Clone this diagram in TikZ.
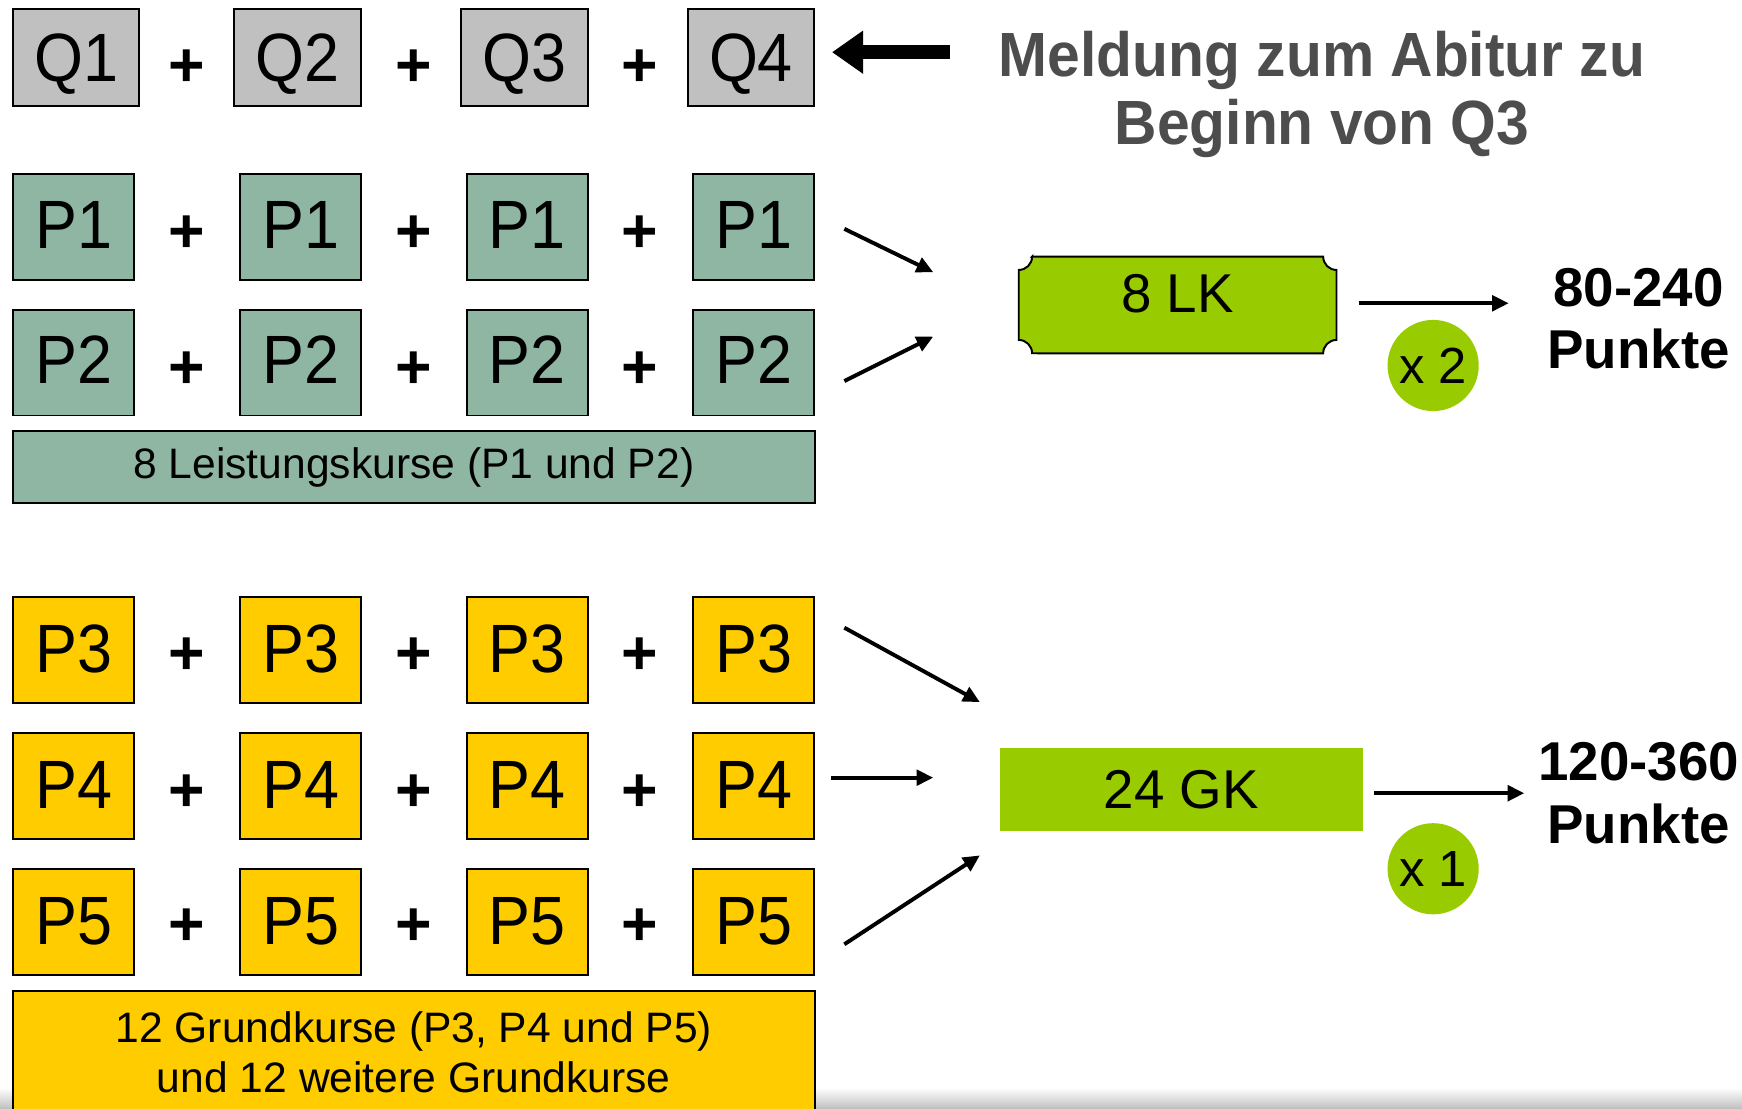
\documentclass[tikz,border=0pt]{standalone}
\usepackage{fontspec}
\setmainfont{Liberation Sans}
\newfontfamily\condf[FakeStretch=0.92]{Liberation Sans}
\newfontfamily\meldf[FakeStretch=0.94]{Liberation Sans}
\usetikzlibrary{arrows.meta,calc}
\definecolor{qgray}{HTML}{C0C0C0}
\definecolor{pteal}{HTML}{8FB5A3}
\definecolor{pyellow}{HTML}{FFCC00}
\definecolor{lgreen}{HTML}{99CC00}
\definecolor{mgray}{HTML}{4D4D4D}
\begin{document}
\begin{tikzpicture}[x=0.01cm,y=0.01cm,
  box/.style={draw=black, line width=0.5pt, inner sep=0pt, text height=12.5pt, font=\condf\fontsize{17.5}{17.5}\selectfont},
  qbox/.style={box, fill=qgray, minimum width=1.13cm, minimum height=0.87cm, text depth=-1.5pt},
  pbox/.style={box, minimum width=1.09cm, minimum height=0.95cm},
  tealbox/.style={pbox, fill=pteal, text depth=1.7pt},
  ybox/.style={pbox, fill=pyellow, text depth=1.1pt},
  bar/.style={draw=black, line width=0.5pt, inner sep=0pt, minimum width=7.21cm, align=center, font=\fontsize{10.9}{12.8}\selectfont},
  plus/.style={inner sep=0pt, font=\bfseries\fontsize{16}{16}\selectfont},
  thinarrow/.style={line width=1pt, -{Triangle[length=0.15cm,width=0.14cm]}},
  bigarrow/.style={line width=0.13cm, -{Triangle[length=0.28cm,width=0.37cm]}},
  mult/.style={circle, fill=lgreen, minimum size=0.82cm, inner sep=0pt, font=\fontsize{13}{13}\selectfont},
  result/.style={fill=lgreen, inner sep=0pt, font=\fontsize{14}{14}\selectfont},
  points/.style={align=center, inner sep=0pt, font=\bfseries\fontsize{14}{15.9}\selectfont}
]
\useasboundingbox (0,0) rectangle (1568,-998);
\fill[white] (0,0) rectangle (1568,-998);
\shade[top color=white, bottom color=black!25] (0,-979) rectangle (1568,-998);

% Q row
\foreach \i/\x/\w in {1/68.5/1.13,2/268/1.14,3/472/1.14,4/676/1.14}
  \node[qbox, minimum width=\w cm] (q\i) at (\x,-51.5) {Q\i};

% P rows
\foreach \r/\y in {1/204.5,2/326.5}
  \foreach \c/\x in {1/66.5,2/270.5,3/474.5,4/678.5}
    \node[tealbox] (p\r c\c) at (\x,-\y) {P\r};
\foreach \r/\y in {3/585,4/707.5,5/830}
  \foreach \c/\x in {1/66.5,2/270.5,3/474.5,4/678.5}
    \node[ybox] (p\r c\c) at (\x,-\y) {P\r};

% plus signs
\foreach \n/\y in {q/61,a/211,b/333,c/591,d/714,e/835}
  \foreach \k/\x in {1/168,2/372,3/576}
    \node[plus] (plus\n\k) at (\x,-\y) {+};

% bars
\node[bar, fill=pteal, minimum height=0.65cm] (lkbar) at (372.5,-420.5) {8 Leistungskurse (P1 und P2)};
\node[bar, fill=pyellow, minimum height=1.11cm] (gkbar) at (372.5,-947.5) {12 Grundkurse (P3, P4 und P5)\\und 12 weitere Grundkurse};

% Meldung
\coordinate (mstart) at (855,-47);
\draw[bigarrow, shorten >=0.15cm] (mstart) -- (mstart -| q4.east);
\node[text=mgray, align=center, inner sep=0pt, font=\meldf\bfseries\fontsize{16}{17.6}\selectfont] (meld) at (1190,-85) {Meldung zum Abitur zu\\Beginn von Q3};

% 8 LK plaque
\filldraw[fill=lgreen, draw=black, line width=0.5pt]
  (929,-231) -- (1191,-231) arc[start angle=180,end angle=270,radius=0.12cm]
  -- (1203,-306) arc[start angle=90,end angle=180,radius=0.12cm]
  -- (929,-318) arc[start angle=0,end angle=90,radius=0.12cm]
  -- (917,-243) arc[start angle=270,end angle=360,radius=0.12cm] -- cycle;
\node[inner sep=0pt, font=\fontsize{14}{14}\selectfont] (lk) at (1060,-264) {8 LK};
\node[mult] (x2) at (1290,-329) {x 2};
\node[points] (pts1) at (1475,-287) {80-240\\Punkte};

% 24 GK
\node[result, minimum width=3.27cm, minimum height=0.75cm] (gk) at (1063.5,-710.5) {24 GK};
\node[mult] (x1) at (1290,-782) {x 1};
\node[points] (pts2) at (1475,-714) {120-360\\Punkte};

% arrows
\coordinate (a1s) at (760,-206); \coordinate (a1e) at (840,-245);
\coordinate (a2s) at (760,-343); \coordinate (a2e) at (840,-303);
\coordinate (a3s) at (760,-565); \coordinate (a3e) at (882,-632);
\coordinate (a4s) at (748,-700); \coordinate (a4e) at (840,-700);
\coordinate (a5s) at (760,-850); \coordinate (a5e) at (882,-770);
\coordinate (o1s) at (1223,-273); \coordinate (o1e) at (1358,-273);
\coordinate (o2s) at (1237,-714); \coordinate (o2e) at (1372,-714);
\foreach \s/\e in {a1s/a1e,a2s/a2e,a3s/a3e,a4s/a4e,a5s/a5e,o1s/o1e,o2s/o2e}
  \draw[thinarrow] (\s) -- (\e);
\end{tikzpicture}
\end{document}
